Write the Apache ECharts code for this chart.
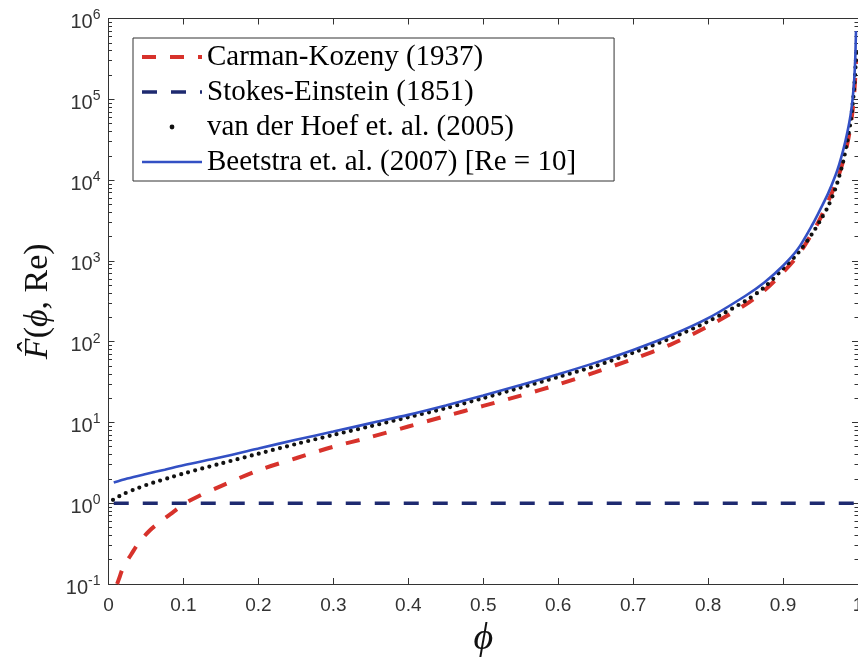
<!DOCTYPE html>
<html>
<head>
<meta charset="utf-8">
<script src="https://cdn.jsdelivr.net/npm/echarts@6/dist/echarts.min.js"></script>
<style>html,body{margin:0;padding:0;background:#fff;}#c{width:858px;height:661px;}</style>
</head>
<body>
<div id="c"></div>
<script>
// ---- data ----
const nameCK = 'Carman-Kozeny (1937)';
const nameSE = 'Stokes-Einstein (1851)';
const nameVH = 'van der Hoef et. al. (2005)';
const nameBE = 'Beetstra et. al. (2007) [Re = 10]';

const phiCK = [0.0115, 0.015, 0.02, 0.03, 0.04, 0.055, 0.07, 0.085, 0.1, 0.12, 0.15, 0.2, 0.25, 0.3, 0.35, 0.4, 0.45, 0.5, 0.55, 0.6, 0.65, 0.7, 0.75, 0.8, 0.85, 0.875, 0.9, 0.92, 0.94, 0.95, 0.96, 0.97, 0.975, 0.98, 0.985, 0.99, 0.993, 0.995, 0.9965, 0.9975];
const valCK = [0.1, 0.123, 0.165, 0.23, 0.32, 0.46, 0.6, 0.76, 0.97, 1.22, 1.63, 2.55, 3.6, 5.0, 6.6, 8.9, 12.0, 16.0, 21.5, 29.5, 42, 61, 92, 155, 288, 430, 720, 1170, 2300, 3400, 5400, 8900, 12000, 17000, 26000, 46000, 76000, 120000, 200000, 316000];

const phiSE = [0.007, 1.0];
const valSE = [1, 1];

const phiVH = [0.006, 0.02, 0.04, 0.06, 0.08, 0.1, 0.15, 0.2, 0.25, 0.3, 0.35, 0.4, 0.45, 0.5, 0.55, 0.6, 0.65, 0.7, 0.75, 0.8, 0.85, 0.875, 0.9, 0.92, 0.94, 0.95, 0.96, 0.97, 0.975, 0.98, 0.985, 0.99, 0.993, 0.995, 0.997, 0.9978];
const valVH = [1.1, 1.3, 1.55, 1.8, 2.05, 2.33, 3.1, 4.1, 5.4, 7.0, 9.0, 11.6, 15, 20, 27, 36.5, 50, 73, 110, 178, 320, 470, 800, 1250, 2250, 3200, 4700, 7900, 11200, 16600, 28000, 52000, 89000, 141000, 280000, 380000];

const phiBE = [0.007, 0.025, 0.05, 0.075, 0.1, 0.15, 0.2, 0.25, 0.3, 0.35, 0.4, 0.45, 0.5, 0.55, 0.6, 0.65, 0.7, 0.75, 0.8, 0.85, 0.875, 0.9, 0.92, 0.94, 0.95, 0.96, 0.97, 0.975, 0.98, 0.985, 0.99, 0.993, 0.995, 0.9965, 0.9973];
const valBE = [1.8, 2.02, 2.3, 2.6, 2.95, 3.7, 4.75, 6.1, 7.7, 9.8, 12.4, 16.2, 21.5, 29, 39.5, 55, 79, 119, 195, 370, 540, 870, 1410, 2900, 4400, 6800, 11500, 15800, 23000, 36000, 63000, 105000, 178000, 355000, 700000];

const xTicks = [0, 0.1, 0.2, 0.3, 0.4, 0.5, 0.6, 0.7, 0.8, 0.9, 1];
const xTickLabels = ['0', '0.1', '0.2', '0.3', '0.4', '0.5', '0.6', '0.7', '0.8', '0.9', '1'];
const yTicks = [0.1, 1, 10, 100, 1000, 10000, 100000, 1000000];
const yTickExponents = ['-1', '0', '1', '2', '3', '4', '5', '6'];

// ---- build chart ----
const yMinor = [];
for (let d = 0; d < yTicks.length - 1; d++) {
  for (let m = 2; m <= 9; m++) yMinor.push(+(yTicks[d] * m).toPrecision(6));
}
const pairs = (xs, ys) => xs.map((x, i) => [x, ys[i]]);

const axisColor = '#333';
const labelFont = 'Liberation Sans';
const serif = 'Liberation Serif';

const chart = echarts.init(document.getElementById('c'), null, {renderer: 'canvas'});

const gridRect = {left: 108.5, right: 0, top: 18.5, bottom: 77, containLabel: false, outerBoundsMode: 'none'};

const commonX = {
  type: 'value', min: 0, max: 1, interval: 0.1,
  axisLine: {show: true, onZero: false, lineStyle: {color: axisColor, width: 1}},
  axisTick: {show: true, inside: true, length: 6, lineStyle: {color: axisColor, width: 1}},
  splitLine: {show: false}
};
const commonY = {
  type: 'log', logBase: 10, min: 0.1, max: 1000000,
  splitLine: {show: false}
};

const option = {
  animation: false,
  backgroundColor: '#fff',
  grid: [Object.assign({}, gridRect), Object.assign({}, gridRect)],
  xAxis: [
    Object.assign({}, commonX, {
      gridIndex: 0, position: 'bottom',
      axisLabel: {
        show: true, margin: 12, fontFamily: labelFont, fontSize: 19, color: axisColor,
        formatter: function (v) { return xTickLabels[Math.round(v * 10)]; }
      },
      name: 'ϕ', nameLocation: 'middle', nameGap: 34,
      nameTextStyle: {fontFamily: serif, fontStyle: 'italic', fontSize: 38, color: '#111'}
    }),
    Object.assign({}, commonX, {gridIndex: 0, position: 'top', axisLabel: {show: false}}),
    Object.assign({}, commonX, {gridIndex: 1, show: false})
  ],
  yAxis: [
    Object.assign({}, commonY, {
      gridIndex: 0, position: 'left',
      axisLine: {show: true, onZero: false, lineStyle: {color: axisColor, width: 1}},
      axisTick: {show: true, inside: true, length: 6, customValues: yTicks, lineStyle: {color: axisColor}},
      axisLabel: {
        show: true, margin: 8, customValues: yTicks,
        formatter: function (v) {
          const i = yTicks.findIndex(t => Math.abs(Math.log10(t) - Math.log10(v)) < 1e-6);
          return '{b|10}{s|' + yTickExponents[i] + '}';
        },
        rich: {
          b: {fontFamily: labelFont, fontSize: 20, color: axisColor, padding: [8, 0, 0, 0]},
          s: {fontFamily: labelFont, fontSize: 14, color: axisColor, padding: [0, 0, 6, 0]}
        }
      },
      name: '{i|F\u0302}{r|(}{i|ϕ}{r|, Re)}',
      nameLocation: 'middle', nameGap: 51, nameRotate: 90,
      nameTextStyle: {
        rich: {
          i: {fontFamily: serif, fontStyle: 'italic', fontSize: 34, color: '#111'},
          r: {fontFamily: serif, fontSize: 34, color: '#111'}
        }
      }
    }),
    Object.assign({}, commonY, {
      gridIndex: 0, position: 'right',
      axisLine: {show: true, onZero: false, lineStyle: {color: axisColor, width: 1}},
      axisTick: {show: true, inside: true, length: 6, customValues: yTicks, lineStyle: {color: axisColor}},
      axisLabel: {show: false}
    }),
    Object.assign({}, commonY, {
      gridIndex: 1, position: 'left',
      axisLine: {show: false, onZero: false},
      axisTick: {show: true, inside: true, length: 3.5, customValues: yMinor, lineStyle: {color: axisColor}},
      axisLabel: {show: false}
    }),
    Object.assign({}, commonY, {
      gridIndex: 1, position: 'right',
      axisLine: {show: false, onZero: false},
      axisTick: {show: true, inside: true, length: 3.5, customValues: yMinor, lineStyle: {color: axisColor}},
      axisLabel: {show: false}
    })
  ],
  legend: {
    orient: 'vertical', left: 133, top: 38,
    padding: [4, 38, 4, 7],
    itemWidth: 60, itemHeight: 6, itemGap: 5,
    borderColor: '#333', borderWidth: 1, backgroundColor: '#fff',
    textStyle: {fontFamily: serif, fontSize: 29, color: '#000', lineHeight: 30},
    data: [
      {name: nameCK, itemStyle: {opacity: 0}, lineStyle: {width: 4}},
      {name: nameSE, itemStyle: {opacity: 0}, lineStyle: {width: 3.5}},
      {name: nameVH, lineStyle: {opacity: 0, width: 0}},
      {name: nameBE, itemStyle: {opacity: 0}, lineStyle: {width: 2.5}}
    ]
  },
  series: [
    {
      name: nameCK, type: 'line', xAxisIndex: 0, yAxisIndex: 0,
      data: pairs(phiCK, valCK), symbol: 'none', smooth: 0.3,
      lineStyle: {color: '#d7322b', width: 4, type: [14, 14]},
      itemStyle: {color: '#d7322b'}
    },
    {
      name: nameSE, type: 'line', xAxisIndex: 0, yAxisIndex: 0,
      data: pairs(phiSE, valSE), symbol: 'none',
      lineStyle: {color: '#1e2a70', width: 3.5, type: [15, 14]},
      itemStyle: {color: '#1e2a70'}
    },
    {
      name: nameVH, type: 'line', xAxisIndex: 0, yAxisIndex: 0,
      data: pairs(phiVH, valVH), symbol: 'none', smooth: 0.3,
      lineStyle: {color: '#111', width: 4.2, type: [0, 7.3], cap: 'round'},
      itemStyle: {color: '#111'}
    },
    {
      name: nameBE, type: 'line', xAxisIndex: 0, yAxisIndex: 0,
      data: pairs(phiBE, valBE), symbol: 'none', smooth: 0.3,
      lineStyle: {color: '#3350c4', width: 2.6},
      itemStyle: {color: '#3350c4'}
    }
  ]
};
chart.setOption(option);
</script>
</body>
</html>
